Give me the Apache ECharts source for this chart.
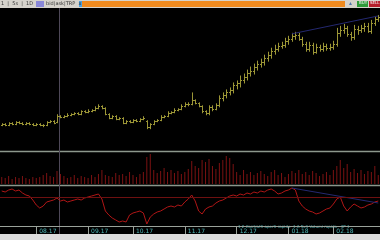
<!DOCTYPE html>
<html><head><meta charset="utf-8">
<script src="https://cdn.jsdelivr.net/npm/echarts@6/dist/echarts.min.js"></script>
<style>html,body{margin:0;padding:0;background:#000;}#c{width:380px;height:240px;}</style>
</head><body><div id="c"></div>
<script>
const openP = [125,126,125,127,126,128,127,126,127,126,125,126,125,125,128,129,128,134,133,134,135,136,137,136,139,138,139,140,142,144,142,136,132,134,131,132,127,129,128,130,129,131,129,123,126,129,130,133,134,137,138,140,141,144,146,146,150,147,144,139,137,143,141,145,152,155,158,160,165,167,171,174,178,180,184,187,189,193,196,200,202,205,206,210,212,215,216,212,207,202,206,199,204,202,205,203,204,207,218,221,223,217,214,222,221,223,225,220,228,232];
const closeP = [126,125,127,126,128,127,126,127,126,125,126,125,125,128,129,127,134,133,134,135,136,137,136,139,138,139,140,142,144,142,136,132,134,131,132,127,129,128,130,129,131,132,123,126,129,130,133,134,137,138,140,141,144,146,146,150,147,144,139,137,143,141,145,152,155,158,160,165,167,171,174,178,180,184,187,189,193,196,200,202,205,206,210,212,215,216,212,207,202,206,199,204,202,205,203,204,207,218,221,223,217,214,222,221,223,225,220,228,232,234];
const highP = [127,127,128,128,129,129,128,128,128,127,127,127,126,129,130,130,136,135,135,137,137,138,138,140,140,141,141,144,146,145,143,137,135,135,133,133,130,130,131,131,132,134,130,127,130,131,135,135,139,139,142,142,146,148,148,158,151,148,145,140,145,145,147,155,158,161,163,168,170,175,177,181,184,187,190,192,196,199,203,206,208,209,213,215,218,219,218,214,209,209,208,207,206,208,207,207,210,223,225,227,225,219,226,225,226,228,228,231,235,236];
const lowP = [124,124,124,125,125,126,125,125,125,124,124,124,123,124,127,126,127,132,132,133,134,135,135,135,137,137,138,139,141,141,135,131,131,130,130,126,126,127,127,128,128,130,121,121,125,128,129,132,133,136,137,139,140,143,144,145,146,143,137,135,135,139,140,143,149,152,155,157,161,163,167,170,174,176,180,183,185,189,192,196,199,202,203,206,209,211,210,204,199,199,196,197,199,199,200,200,201,204,214,217,214,210,211,216,218,219,218,217,225,229];
const volume = [7,6,8,5,7,6,8,6,5,7,6,7,9,11,8,7,13,10,8,6,7,9,6,8,7,6,9,7,10,14,9,8,7,11,9,10,8,12,9,7,10,12,27,30,14,11,13,16,12,14,11,13,10,12,15,23,18,16,24,22,25,18,15,21,24,28,26,20,12,9,14,10,12,9,11,13,10,8,12,14,9,11,7,10,13,11,14,10,12,9,13,11,8,10,12,9,14,18,24,16,20,12,15,11,14,10,13,12,18,9];
const oscill = [35,34,36,37,35,36,33,31,30,26,21,18,20,24,25,26,28,25,26,24,25,26,27,26,28,29,30,31,32,27,15,11,8,6,4,5,4,11,13,14,15,13,2,9,12,14,15,17,19,20,19,21,20,24,27,31,25,15,12,17,19,20,23,25,26,28,30,31,30,32,31,33,32,34,33,35,34,36,37,35,32,33,35,36,38,36,25,20,17,15,14,12,13,15,17,18,22,27,29,20,15,19,22,20,18,19,21,22,24,25];
const oscillLevel = 29;
const trendIdx = [84,109];
const trendPrice = [217,235];
const trendOsc = [38,23];
const dateLabels = ['08.17','09.17','10.17','11.17','12.17','01.18','02.18'];
const dateIdx = [10,25,38,53,68,83,96];

const N = closeP.length;
const cats = [];
for (let i = 0; i < N; i++) { const k = dateIdx.indexOf(i); cats.push(k >= 0 ? dateLabels[k] : ''); }
const ohlc = closeP.map((c, i) => [i, openP[i], c, lowP[i], highP[i]]);
const barColor = '#9c9636';

const chart = echarts.init(document.getElementById('c'), null, {renderer: 'canvas'});
const xBase = {type: 'category', data: cats, boundaryGap: true, axisLine: {show: false}, axisTick: {show: false}, axisLabel: {show: false}, splitLine: {show: false}};
chart.setOption({
  animation: false,
  backgroundColor: '#000000',
  grid: [
    {left: 0, right: 0, top: 9, height: 141},
    {left: 0, right: 0, top: 152, height: 32},
    {left: 0, right: 0, top: 187, height: 39}
  ],
  xAxis: [
    Object.assign({}, xBase, {gridIndex: 0}),
    Object.assign({}, xBase, {gridIndex: 1}),
    Object.assign({}, xBase, {gridIndex: 2,
      axisLine: {show: true, lineStyle: {color: '#9aa29a', width: 1}},
      axisTick: {show: true, alignWithLabel: true, length: 8, interval: (i) => dateIdx.indexOf(i) >= 0, lineStyle: {color: '#9aa29a'}},
      axisLabel: {show: true, interval: (i) => dateIdx.indexOf(i) >= 0, margin: 2, align: 'left', padding: [0,0,0,3], fontSize: 6, color: '#4fb8b8', fontFamily: 'DejaVu Sans'}
    })
  ],
  yAxis: [
    {gridIndex: 0, min: 100, max: 242, show: false},
    {gridIndex: 1, min: 0, max: 32, show: false},
    {gridIndex: 2, min: 0, max: 39, show: false}
  ],
  series: [
    {type: 'custom', xAxisIndex: 0, yAxisIndex: 0, data: ohlc, encode: {x: 0, y: [1,2,3,4]},
     renderItem: function (params, api) {
       const pO = api.coord([api.value(0), api.value(1)]);
       const pC = api.coord([api.value(0), api.value(2)]);
       const pL = api.coord([api.value(0), api.value(3)]);
       const pH = api.coord([api.value(0), api.value(4)]);
       const x = Math.round(pO[0]) + 0.5;
       const st = {stroke: barColor, lineWidth: 1};
       return {type: 'group', children: [
         {type: 'line', shape: {x1: x, y1: pH[1], x2: x, y2: pL[1]}, style: st},
         {type: 'line', shape: {x1: x - 1.5, y1: Math.round(pO[1]) + 0.5, x2: x, y2: Math.round(pO[1]) + 0.5}, style: st},
         {type: 'line', shape: {x1: x, y1: Math.round(pC[1]) + 0.5, x2: x + 1.5, y2: Math.round(pC[1]) + 0.5}, style: st}
       ]};
     }},
    {type: 'line', xAxisIndex: 0, yAxisIndex: 0, data: trendIdx.map((t, i) => [t, trendPrice[i]]), symbol: 'none', lineStyle: {color: '#242870', width: 1}},
    {type: 'bar', xAxisIndex: 1, yAxisIndex: 1, data: volume, barWidth: 1, itemStyle: {color: '#7c1212'}},
    {type: 'line', xAxisIndex: 2, yAxisIndex: 2, data: oscill, symbol: 'none', lineStyle: {color: '#b01616', width: 1},
     markLine: {silent: true, symbol: 'none', label: {show: false}, lineStyle: {color: '#6e1010', width: 1, type: 'solid'}, data: [{yAxis: oscillLevel}]}},
    {type: 'line', xAxisIndex: 2, yAxisIndex: 2, data: trendIdx.map((t, i) => [t, trendOsc[i]]), symbol: 'none', lineStyle: {color: '#242870', width: 1}}
  ],
  graphic: [
    {type: 'rect', shape: {x: 0, y: 0, width: 380, height: 8}, style: {fill: '#d6d3cc'}},
    {type: 'rect', shape: {x: 82, y: 1, width: 263, height: 6}, style: {fill: '#f08a1e'}},
    {type: 'rect', shape: {x: 36, y: 1, width: 8, height: 6}, style: {fill: '#8a88d8'}},
    {type: 'rect', shape: {x: 79, y: 1, width: 3, height: 6}, style: {fill: '#4aa0e0'}},
    {type: 'rect', shape: {x: 357, y: 1, width: 11, height: 6}, style: {fill: '#2f9a3a'}},
    {type: 'rect', shape: {x: 369, y: 1, width: 11, height: 6}, style: {fill: '#b51e2a'}},
    {type: 'text', left: 1, top: 1, style: {text: '1  |  5s  |  1D', fontSize: 5, fill: '#333', fontFamily: 'DejaVu Sans'}},
    {type: 'text', left: 46, top: 1, style: {text: 'bid|ask|TRP  x', fontSize: 5, fill: '#333', fontFamily: 'DejaVu Sans'}},
    {type: 'text', left: 348, top: 1, style: {text: '▲', fontSize: 5, fill: '#5577aa'}},
    {type: 'text', left: 359, top: 1, style: {text: 'BUY', fontSize: 4, fill: '#ffffff', fontFamily: 'DejaVu Sans'}},
    {type: 'text', left: 370, top: 1, style: {text: 'SELL', fontSize: 4, fill: '#ffffff', fontFamily: 'DejaVu Sans'}},
    {type: 'line', shape: {x1: 0, y1: 151.5, x2: 380, y2: 151.5}, style: {stroke: '#8c978c', lineWidth: 1.5}},
    {type: 'line', shape: {x1: 0, y1: 185.5, x2: 380, y2: 185.5}, style: {stroke: '#8c978c', lineWidth: 1.5}},
    {type: 'line', shape: {x1: 59.5, y1: 8, x2: 59.5, y2: 234}, style: {stroke: '#4e4858', lineWidth: 1}},
    {type: 'text', left: 238, top: 225, style: {text: '1 2 Contratti aperti rapido  1 A 5x1 Volumi rapido   3P 1', fontSize: 4, fill: '#4fb8b8', fontFamily: 'DejaVu Sans'}},
    {type: 'rect', shape: {x: 0, y: 234, width: 380, height: 6}, style: {fill: '#dcdcdc'}}
  ]
});
</script></body></html>
